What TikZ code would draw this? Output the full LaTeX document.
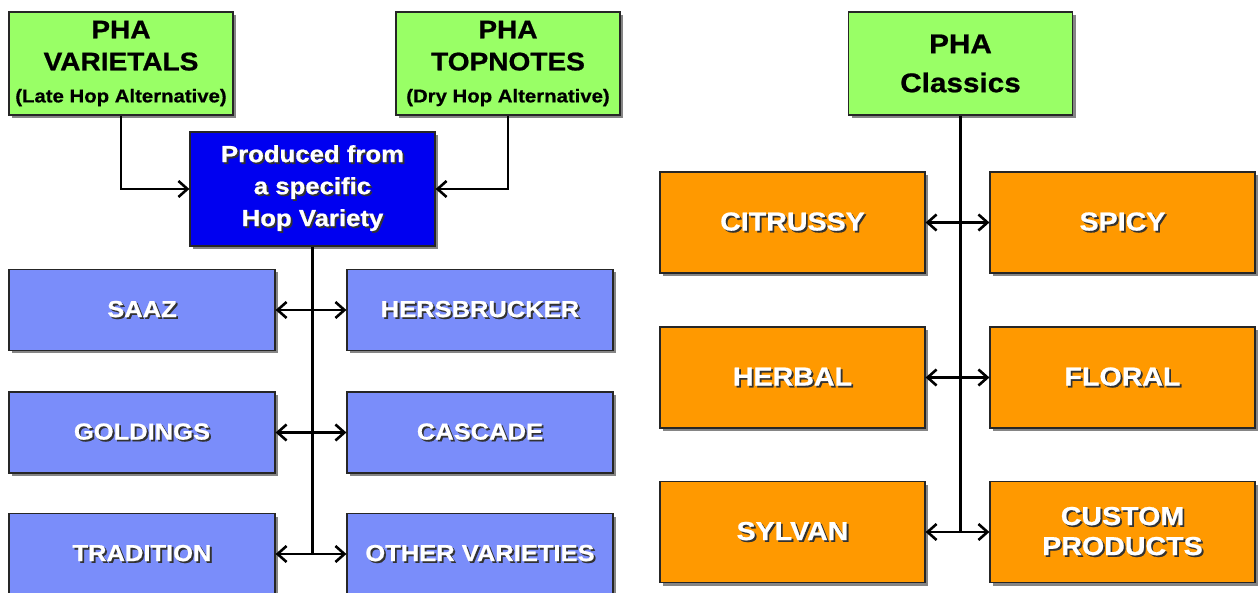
\documentclass[tikz,border=0pt]{standalone}
\usepackage{fontspec}
\setmainfont{Liberation Sans}[FakeStretch=1.1, BoldFeatures={FakeBold=0.8, FakeStretch=1.1}]
\usepackage{xcolor}
\usepackage{tikz}
\usetikzlibrary{arrows.meta, positioning, calc, shadows}

\definecolor{hopgreen}{RGB}{153,255,102}
\definecolor{hopblue}{RGB}{0,0,240}
\definecolor{hoplight}{RGB}{122,141,250}
\definecolor{hoporange}{RGB}{255,153,0}
\definecolor{txtshadow}{RGB}{50,50,50}

% white text with a small dark shadow
\newcommand{\embtxt}[1]{\makebox[0pt][l]{\hspace{1.8pt}\raisebox{-1.8pt}{\textcolor{txtshadow}{#1}}}#1}

\tikzset{
  box/.style={draw=black!85, line width=1.2pt, inner sep=0pt, align=center,
    drop shadow={shadow xshift=3pt, shadow yshift=-3pt, fill=black!60, opacity=0.8}},
  headbox/.style={box, fill=hopgreen, minimum width=224pt, minimum height=103pt},
  sourcebox/.style={box, fill=hopblue, text=white, minimum width=245pt, minimum height=114pt,
    font=\bfseries\fontsize{23.4}{32}\selectfont},
  hopbox/.style={box, fill=hoplight, text=white, minimum width=266pt, minimum height=81pt,
    font=\bfseries\fontsize{23.2}{28}\selectfont},
  aromabox/.style={box, fill=hoporange, text=white, minimum width=265pt, minimum height=101pt,
    font=\bfseries\fontsize{26}{30}\selectfont},
  conn/.style={line width=2.6pt}
}

\begin{document}
\begin{tikzpicture}[x=1pt, y=-1pt, >={Straight Barb[length=9pt, width=16pt]}]

\path[use as bounding box, clip] (0,0) rectangle (1258,593);

% --- Left: hop varieties ---
\node[headbox, font=\bfseries\fontsize{25.5}{32}\selectfont] (varietals) at (121,63.5)
  {PHA\\VARIETALS\\{\fontsize{18.5}{18}\selectfont(Late Hop Alternative)}};
\node[headbox, font=\bfseries\fontsize{25.5}{32}\selectfont] (topnotes) at (508,63.5)
  {PHA\\TOPNOTES\\{\fontsize{18.5}{18}\selectfont(Dry Hop Alternative)}};
\node[sourcebox] (hopvar) at (312.5,189)
  {\embtxt{Produced from}\\\embtxt{a specific}\\\embtxt{Hop Variety}};

\node[hopbox] (saaz) at (142,310) {\embtxt{SAAZ}};
\node[hopbox] (hersbrucker) at (480,310) {\embtxt{HERSBRUCKER}};
\node[hopbox] (goldings) at (142,432.5) {\embtxt{GOLDINGS}};
\node[hopbox] (cascade) at (480,432.5) {\embtxt{CASCADE}};
\node[hopbox] (tradition) at (142,554) {\embtxt{TRADITION}};
\node[hopbox] (other) at (480,554) {\embtxt{OTHER VARIETIES}};

\draw[conn, ->] (varietals.south) |- (hopvar.west);
\draw[conn, ->] (topnotes.south) |- (hopvar.east);
\draw[conn] (hopvar.south) -- (hopvar.south |- tradition.east);
\foreach \l/\r in {saaz/hersbrucker, goldings/cascade, tradition/other}
  \draw[conn, <->] (\l.east) -- (\r.west);

% --- Right: classics ---
\node[headbox, font=\bfseries\fontsize{27}{39}\selectfont] (classics) at (960.5,63.5)
  {PHA\\Classics};

\node[aromabox] (citrussy) at (792.5,222.5) {\embtxt{CITRUSSY}};
\node[aromabox] (spicy) at (1122.5,222.5) {\embtxt{SPICY}};
\node[aromabox] (herbal) at (792.5,377.5) {\embtxt{HERBAL}};
\node[aromabox] (floral) at (1122.5,377.5) {\embtxt{FLORAL}};
\node[aromabox] (sylvan) at (792.5,532) {\embtxt{SYLVAN}};
\node[aromabox] (custom) at (1122.5,532) {\embtxt{CUSTOM}\\\embtxt{PRODUCTS}};

\draw[conn] (classics.south) -- (classics.south |- sylvan.east);
\foreach \l/\r in {citrussy/spicy, herbal/floral, sylvan/custom}
  \draw[conn, <->] (\l.east) -- (\r.west);

\end{tikzpicture}
\end{document}
